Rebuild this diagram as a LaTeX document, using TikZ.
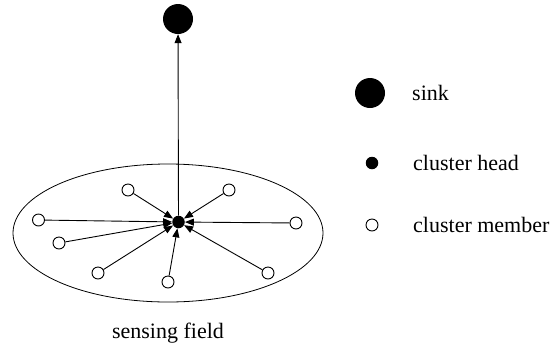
\documentclass[tikz,border=0pt]{standalone}
\usepackage{fontspec}
\setmainfont{Liberation Serif}
\usetikzlibrary{arrows.meta}
\begin{document}
\begin{tikzpicture}[x=1pt,y=-1pt,
  sinknode/.style={circle,fill=black,inner sep=0pt,minimum size=30pt},
  headnode/.style={circle,fill=black,inner sep=0pt,minimum size=12.5pt},
  membernode/.style={circle,draw=black,fill=white,line width=0.9pt,inner sep=0pt,minimum size=12pt},
  link/.style={line width=0.9pt,-{Triangle[length=9pt,width=7pt]}},
  lbl/.style={font=\fontsize{22}{26}\selectfont,inner sep=0pt,anchor=west}]
\useasboundingbox (0,0) rectangle (559,349);
\draw[line width=0.8pt] (168,233) ellipse [x radius=155, y radius=69];
\node[sinknode] (sink) at (178,19) {};
\node[headnode] (ch) at (178.5,222) {};
\node[membernode] (m1) at (128,190) {};
\node[membernode] (m2) at (229,190) {};
\node[membernode] (m3) at (38.5,220) {};
\node[membernode] (m4) at (296,223) {};
\node[membernode] (m5) at (59,243) {};
\node[membernode] (m6) at (98,273) {};
\node[membernode] (m7) at (168,282) {};
\node[membernode] (m8) at (268,273) {};
\foreach \m in {m1,m2,m3,m4,m5,m6,m7,m8} \draw[link] (\m) -- (ch);
\draw[link] (ch) -- (sink);
\node[font=\fontsize{22}{26}\selectfont,inner sep=0pt] (field) at (168,333) {sensing field};
\node[sinknode] (lsink) at (370,93) {};
\node[lbl] (tsink) at (412,93) {sink};
\node[headnode] (lch) at (372,163) {};
\node[lbl] (tch) at (413,163) {cluster head};
\node[membernode] (lm) at (372,225) {};
\node[lbl] (tm) at (413,225) {cluster member};
\end{tikzpicture}
\end{document}
